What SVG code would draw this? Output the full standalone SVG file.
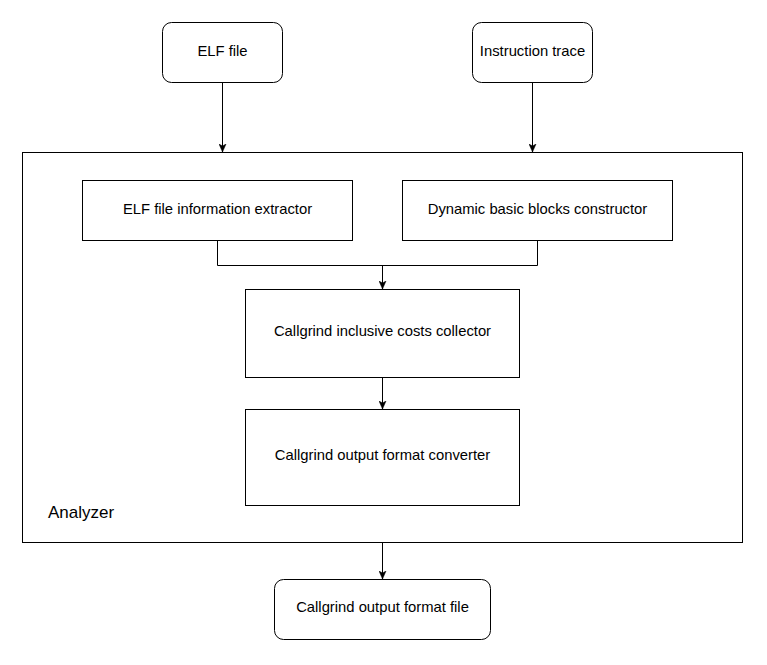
<svg xmlns="http://www.w3.org/2000/svg" width="767" height="665" viewBox="0 0 767 665">
<style>
.box{fill:#fff;stroke:#000;stroke-width:1}
.t{font-family:"Liberation Sans",Arial,sans-serif;font-size:14.8px;fill:#000;text-anchor:middle;dominant-baseline:central}
.c{fill:none;stroke:#000;stroke-width:1}
</style>
<defs>
<marker id="ah" viewBox="0 0 8 8" refX="8" refY="4" markerWidth="8" markerHeight="8" markerUnits="userSpaceOnUse" orient="auto">
<path d="M0,0.5 L8,4 L0,7.5 L2,4 Z" fill="#000" stroke="#000" stroke-width="0.5"/>
</marker>
</defs>
<rect width="767" height="665" fill="#fff"/>
<g id="analyzer">
<rect class="box" x="22.5" y="152.5" width="720" height="390"/>
<text x="48" y="512" style="font-family:'Liberation Sans',Arial,sans-serif;font-size:17px;dominant-baseline:central">Analyzer</text>
</g>
<g id="elf-file">
<rect class="box" x="162.5" y="22.5" width="120" height="60" rx="9"/>
<text class="t" x="222.5" y="51">ELF file</text>
</g>
<g id="instruction-trace">
<rect class="box" x="472.5" y="22.5" width="120" height="60" rx="9"/>
<text class="t" x="532.5" y="51">Instruction trace</text>
</g>
<g id="elf-extractor">
<rect class="box" x="82.5" y="180.5" width="270" height="60"/>
<text class="t" x="217.5" y="209">ELF file information extractor</text>
</g>
<g id="dbb-constructor">
<rect class="box" x="402.5" y="180.5" width="270" height="60"/>
<text class="t" x="537.5" y="209">Dynamic basic blocks constructor</text>
</g>
<g id="inclusive-collector">
<rect class="box" x="245.5" y="289.5" width="274" height="88"/>
<text class="t" x="382.5" y="331">Callgrind inclusive costs collector</text>
</g>
<g id="format-converter">
<rect class="box" x="245.5" y="409.5" width="274" height="96"/>
<text class="t" x="382.5" y="455">Callgrind output format converter</text>
</g>
<g id="output-file">
<rect class="box" x="274.5" y="579.5" width="216" height="60" rx="9"/>
<text class="t" x="382.5" y="607">Callgrind output format file</text>
</g>
<g id="connectors">
<path class="c" d="M222.5,82.5 V152" marker-end="url(#ah)"/>
<path class="c" d="M532.5,82.5 V152" marker-end="url(#ah)"/>
<path class="c" d="M217.5,240.5 V265.5 H537.5 V240.5"/>
<path class="c" d="M382.5,265.5 V289" marker-end="url(#ah)"/>
<path class="c" d="M382.5,377.5 V409" marker-end="url(#ah)"/>
<path class="c" d="M382.5,542.5 V579" marker-end="url(#ah)"/>
</g>
</svg>
